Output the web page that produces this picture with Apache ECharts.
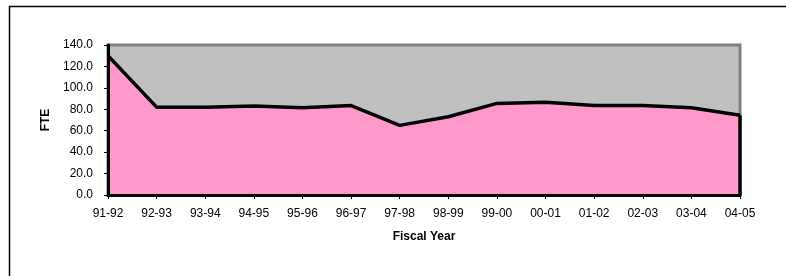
<!DOCTYPE html>
<html><head><meta charset="utf-8">
<script src="https://cdn.jsdelivr.net/npm/echarts@6/dist/echarts.min.js"></script>
<style>html,body{margin:0;padding:0;background:#fff}#c{width:786px;height:276px}</style>
</head><body><div id="c"></div>
<script>
var categories = ['91-92','92-93','93-94','94-95','95-96','96-97','97-98','98-99','99-00','00-01','01-02','02-03','03-04','04-05'];
var fte = [130, 82, 82, 83, 81.5, 83.5, 65, 73, 85.5, 86.5, 83.5, 83.5, 81.5, 74.5];
var yTicks = [0, 20, 40, 60, 80, 100, 120, 140];

var chart = echarts.init(document.getElementById('c'), null, {renderer:'canvas'});
var font = '"Liberation Sans", Arial, sans-serif';
var lastCat = categories[categories.length-1];
var lastVal = fte[fte.length-1];
chart.setOption({
  animation:false,
  backgroundColor:'#fff',
  textStyle:{fontFamily:font},
  graphic:[{type:'rect', left:7, top:4, shape:{width:800, height:300}, style:{fill:'none', stroke:'#000', lineWidth:1.5}, z:-1}],
  grid:{left:108, right:46, top:45, bottom:81, show:true, backgroundColor:'#C0C0C0', borderColor:'#808080', borderWidth:3},
  xAxis:{type:'category', data:categories, boundaryGap:false, z:5,
    name:'Fiscal Year', nameLocation:'middle', nameGap:36,
    nameTextStyle:{fontFamily:font, fontSize:12, fontWeight:'bold', color:'#000'},
    axisLine:{lineStyle:{color:'#000', width:3}},
    axisTick:{show:true, length:4, lineStyle:{color:'#000', width:1}, alignWithLabel:true},
    axisLabel:{fontFamily:font, fontSize:12, color:'#000', margin:13, interval:0},
    splitLine:{show:false}},
  yAxis:{type:'value', min:yTicks[0], max:yTicks[yTicks.length-1], interval:20, z:5,
    name:'FTE', nameLocation:'middle', nameGap:53, nameRotate:90,
    nameTextStyle:{fontFamily:font, fontSize:12, fontWeight:'bold', color:'#000'},
    axisLine:{show:true, lineStyle:{color:'#000', width:3}},
    axisTick:{show:true, length:4, lineStyle:{color:'#000', width:1}},
    axisLabel:{fontFamily:font, fontSize:12, color:'#000', margin:15, formatter:function(v){return v.toFixed(1);}},
    splitLine:{show:false}},
  series:[{type:'line', data:fte, symbol:'none', silent:true,
    lineStyle:{color:'#000', width:3.5},
    areaStyle:{color:'#FF99CC', opacity:1},
    markLine:{silent:true, symbol:'none', label:{show:false},
      lineStyle:{color:'#000', width:3.5, type:'solid'},
      data:[[{coord:[lastCat, 0]},{coord:[lastCat, lastVal]}]]}
  }]
});
</script></body></html>
